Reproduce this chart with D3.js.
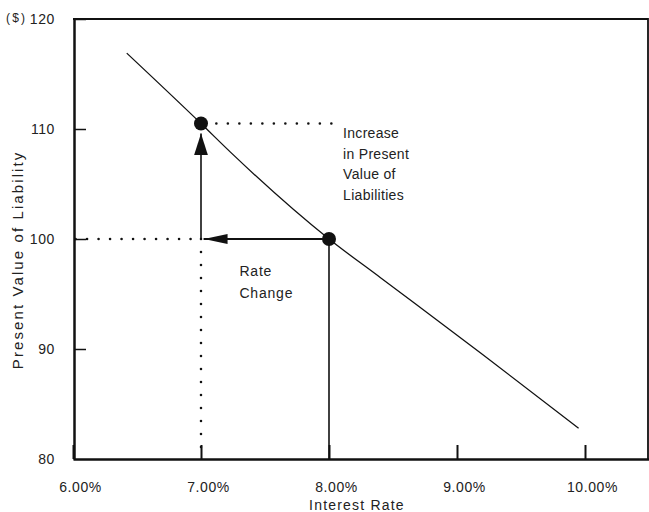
<!DOCTYPE html>
<html>
<head>
<meta charset="utf-8">
<script src="https://cdn.jsdelivr.net/npm/d3@7"></script>
<style>
    html, body { margin: 0; padding: 0; background: #fff; }
    svg text { font-family: "Liberation Sans", Arial, sans-serif; fill: #222; }
</style>
</head>
<body>
<svg id="chart" width="649" height="512"></svg>
<script>
// curve of present value against interest rate
var curveRates = [6.42, 7.00, 7.23, 8.00, 8.40, 9.20, 9.95];
var curveValues = [116.9, 110.5, 107.9, 100.0, 96.5, 89.5, 82.8];

// the two marked points
var pointRates = [7.00, 8.00];
var pointValues = [110.5, 100.0];

var xTicks = [6, 7, 8, 9, 10];
var xTickLabels = ['6.00%', '7.00%', '8.00%', '9.00%', '10.00%'];
var yTicks = [80, 90, 100, 110, 120];

var noteLines = ['Increase', 'in Present', 'Value of', 'Liabilities'];
var rateNoteLines = ['Rate', 'Change'];

var svg = d3.select('#chart');

var x = d3.scaleLinear().domain([6, 10.5]).range([73, 649]);
var y = d3.scaleLinear().domain([80, 120]).range([459, 19]);

// frame
svg.append('path')
    .attr('d', `M${x(6)},${y(120)} L${x(10.5) - 1},${y(120)} L${x(10.5) - 1},${y(80)}`)
    .attr('fill', 'none')
    .attr('stroke', '#111')
    .attr('stroke-width', 1.8);

// axes
var xAxis = d3.axisBottom(x)
    .tickValues(xTicks)
    .tickSize(-14)
    .tickSizeOuter(0)
    .tickPadding(23)
    .tickFormat(function (d, i) { return xTickLabels[i]; });

var gx = svg.append('g')
    .attr('transform', `translate(0,${y(80)})`)
    .call(xAxis);

gx.select('.domain').attr('stroke', '#111').attr('stroke-width', 2.5);
gx.selectAll('.tick line').attr('stroke', '#111').attr('stroke-width', 2);
gx.selectAll('.tick text')
    .attr('dx', 7)
    .attr('font-size', 14)
    .attr('letter-spacing', 0.6)
    .attr('fill', '#222');

var yAxis = d3.axisLeft(y)
    .tickValues(yTicks)
    .tickSize(-12)
    .tickSizeOuter(0)
    .tickPadding(19);

var gy = svg.append('g')
    .attr('transform', `translate(${x(6) + 1},0)`)
    .call(yAxis);

gy.select('.domain').attr('stroke', '#111').attr('stroke-width', 2.5);
gy.selectAll('.tick line').attr('stroke', '#111').attr('stroke-width', 1.5);
gy.selectAll('.tick text')
    .attr('font-size', 14)
    .attr('letter-spacing', 0.6)
    .attr('fill', '#222');
gy.selectAll('.tick')
    .filter(function (d) { return d === 80; })
    .select('line').remove();

svg.append('text')
    .attr('x', 6)
    .attr('y', y(120) + 3)
    .attr('font-size', 12)
    .attr('letter-spacing', 2.2)
    .text('($)');

// axis titles
svg.append('text')
    .attr('x', 357)
    .attr('y', 510)
    .attr('text-anchor', 'middle')
    .attr('font-size', 14)
    .attr('letter-spacing', 1.2)
    .text('Interest Rate');

svg.append('text')
    .attr('transform', `translate(23,${y(98.1)}) rotate(-90)`)
    .attr('text-anchor', 'middle')
    .attr('font-size', 15)
    .attr('letter-spacing', 2.1)
    .text('Present Value of Liability');

// arrow heads
var defs = svg.append('defs');

defs.append('marker')
    .attr('id', 'arrowUp')
    .attr('viewBox', '0 -7 22 14')
    .attr('refX', 22)
    .attr('refY', 0)
    .attr('markerUnits', 'userSpaceOnUse')
    .attr('markerWidth', 22)
    .attr('markerHeight', 14)
    .attr('orient', 'auto')
    .append('path')
    .attr('d', 'M0,-7 L22,0 L0,7 Z')
    .attr('fill', '#111');

defs.append('marker')
    .attr('id', 'arrowLeft')
    .attr('viewBox', '0 -5 24 10')
    .attr('refX', 24)
    .attr('refY', 0)
    .attr('markerUnits', 'userSpaceOnUse')
    .attr('markerWidth', 24)
    .attr('markerHeight', 10)
    .attr('orient', 'auto')
    .append('path')
    .attr('d', 'M0,-5 L24,0 L0,5 Z')
    .attr('fill', '#111');

// dotted guides
function dotted(r1, v1, r2, v2, gap) {
    svg.append('line')
        .attr('x1', x(r1))
        .attr('y1', y(v1))
        .attr('x2', x(r2))
        .attr('y2', y(v2))
        .attr('stroke', '#111')
        .attr('stroke-width', 2.6)
        .attr('stroke-linecap', 'round')
        .attr('stroke-dasharray', `0,${gap}`);
}

dotted(6.02, pointValues[1], pointRates[0], pointValues[1], 11.5);
dotted(pointRates[0], pointValues[1], pointRates[0], 80.6, 13);
dotted(7.12, pointValues[0], 8.02, pointValues[0], 11.5);

// solid guides
svg.append('line')
    .attr('x1', x(pointRates[1]))
    .attr('y1', y(pointValues[1]))
    .attr('x2', x(pointRates[1]))
    .attr('y2', y(80))
    .attr('stroke', '#111')
    .attr('stroke-width', 1.6);

svg.append('line')
    .attr('x1', x(pointRates[1]))
    .attr('y1', y(pointValues[1]))
    .attr('x2', x(7.02))
    .attr('y2', y(pointValues[1]))
    .attr('stroke', '#111')
    .attr('stroke-width', 1.8)
    .attr('marker-end', 'url(#arrowLeft)');

svg.append('line')
    .attr('x1', x(pointRates[0]))
    .attr('y1', y(pointValues[1]))
    .attr('x2', x(pointRates[0]))
    .attr('y2', y(109.6))
    .attr('stroke', '#111')
    .attr('stroke-width', 1.6)
    .attr('marker-end', 'url(#arrowUp)');

// curve
var line = d3.line()
    .x(function (d, i) { return x(curveRates[i]); })
    .y(function (d) { return y(d); })
    .curve(d3.curveMonotoneX);

svg.append('path')
    .datum(curveValues)
    .attr('d', line)
    .attr('fill', 'none')
    .attr('stroke', '#111')
    .attr('stroke-width', 1.3);

// points
svg.selectAll('circle.pt')
    .data(pointValues)
    .enter()
    .append('circle')
    .attr('class', 'pt')
    .attr('cx', function (d, i) { return x(pointRates[i]); })
    .attr('cy', function (d) { return y(d); })
    .attr('r', 7)
    .attr('fill', '#111');

// notes
svg.append('text')
    .attr('x', x(8.11))
    .attr('y', y(109.2))
    .attr('font-size', 14)
    .attr('letter-spacing', 0.3)
    .selectAll('tspan')
    .data(noteLines)
    .enter()
    .append('tspan')
    .attr('x', x(8.11))
    .attr('dy', function (d, i) { return i === 0 ? 0 : 20.8; })
    .text(function (d) { return d; });

svg.append('text')
    .attr('x', x(7.31))
    .attr('y', y(96.6))
    .attr('font-size', 14)
    .attr('letter-spacing', 0.8)
    .selectAll('tspan')
    .data(rateNoteLines)
    .enter()
    .append('tspan')
    .attr('x', x(7.30))
    .attr('dy', function (d, i) { return i === 0 ? 0 : 22; })
    .text(function (d) { return d; });
</script>
</body>
</html>
